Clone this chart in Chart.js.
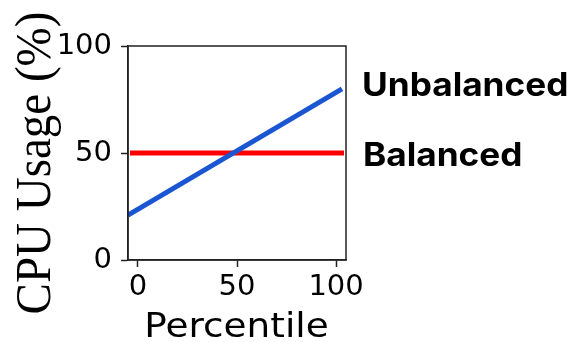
<!DOCTYPE html>
<html>
<head>
<meta charset="utf-8">
<script src="https://cdn.jsdelivr.net/npm/chart.js@4"></script>
<style>
  html, body { margin: 0; padding: 0; background: #fff; }
  #wrap { width: 575px; height: 342px; }
</style>
</head>
<body>
<div id="wrap"><canvas id="c" width="575" height="342"></canvas></div>
<script>
// Percentile on x, CPU usage (%) on y
const unbalancedX = [-5, 103];
const unbalancedY = [21, 80];
const balancedX = [-4, 104];
const balancedY = [50, 50];
const xTicks = [0, 50, 100];
const yTicks = [0, 50, 100];
const seriesNames = ['Unbalanced', 'Balanced'];
const xTitle = 'Percentile';
const yTitle = 'CPU Usage (%)';

const STRETCH = 1.1;

const frameAndText = {
  id: 'frameAndText',
  afterDatasetsDraw(chart) {
    const { ctx, chartArea: a } = chart;
    ctx.save();
    // box around the plot
    ctx.strokeStyle = '#222';
    ctx.lineWidth = 1.5;
    ctx.strokeRect(a.left, a.top, a.right - a.left, a.bottom - a.top);

    ctx.fillStyle = '#000';
    // y title, rotated
    ctx.save();
    ctx.translate(50, 163);
    ctx.rotate(-Math.PI / 2);
    ctx.scale(1, STRETCH);
    ctx.font = '47px "Liberation Serif"';
    ctx.textAlign = 'center';
    ctx.textBaseline = 'alphabetic';
    ctx.fillText(yTitle, 0, 0);
    ctx.restore();

    // x title
    ctx.save();
    ctx.translate(236.5, 337);
    ctx.scale(STRETCH, 1);
    ctx.font = '34px "DejaVu Sans"';
    ctx.textAlign = 'center';
    ctx.textBaseline = 'alphabetic';
    ctx.fillText(xTitle, 0, 0);
    ctx.restore();

    // series names at the right of the plot
    ctx.font = 'bold 32px Inter';
    ctx.textAlign = 'left';
    ctx.textBaseline = 'alphabetic';
    const lx = a.right + 16;
    ctx.save();
    ctx.translate(lx, 96);
    ctx.scale(STRETCH, 1);
    ctx.fillText(seriesNames[0], 0, 0);
    ctx.restore();
    ctx.save();
    ctx.translate(lx + 1, 166);
    ctx.scale(STRETCH, 1);
    ctx.fillText(seriesNames[1], 0, 0);
    ctx.restore();
    ctx.restore();
  }
};

const toPoints = (xs, ys) => xs.map((x, i) => ({ x, y: ys[i] }));

new Chart(document.getElementById('c'), {
  type: 'line',
  data: {
    datasets: [
      {
        label: seriesNames[0],
        data: toPoints(unbalancedX, unbalancedY),
        borderColor: '#1a55d2',
        borderWidth: 5,
        pointRadius: 0,
        tension: 0,
        borderCapStyle: 'butt'
      },
      {
        label: seriesNames[1],
        data: toPoints(balancedX, balancedY),
        borderColor: '#ff0000',
        borderWidth: 5,
        pointRadius: 0,
        tension: 0,
        borderCapStyle: 'butt'
      }
    ]
  },
  options: {
    responsive: false,
    animation: false,
    layout: { padding: { top: 46, right: 229, left: 0, bottom: 0 } },
    plugins: { legend: { display: false }, tooltip: { enabled: false } },
    scales: {
      x: {
        type: 'linear',
        min: -5,
        max: 105,
        afterFit(s) { s.height = 82; },
        afterBuildTicks(s) { s.ticks = xTicks.map(v => ({ value: v })); },
        grid: { drawOnChartArea: false, drawTicks: true, tickLength: 7, color: '#222', tickWidth: 1.5 },
        border: { display: true, color: '#222', width: 1.5 },
        ticks: { color: '#000', font: { family: 'DejaVu Sans', size: 29 }, padding: 3, maxRotation: 0 }
      },
      y: {
        type: 'linear',
        min: 0,
        max: 100,
        afterFit(s) { s.width = 128; },
        afterBuildTicks(s) { s.ticks = yTicks.map(v => ({ value: v })); },
        grid: { drawOnChartArea: false, drawTicks: true, tickLength: 7, color: '#222', tickWidth: 1.5 },
        border: { display: true, color: '#222', width: 1.5 },
        ticks: { color: '#000', font: { family: 'DejaVu Sans', size: 29 }, padding: 9 }
      }
    }
  },
  plugins: [frameAndText]
});
</script>
</body>
</html>
